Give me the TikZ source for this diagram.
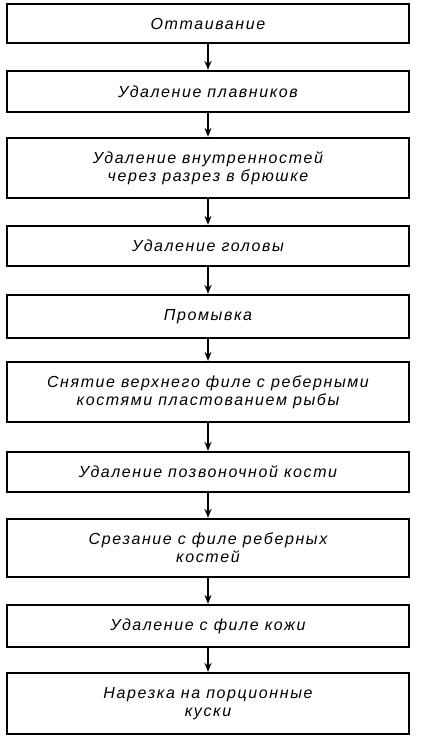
\documentclass[tikz,border=0pt]{standalone}
\usepackage{fontspec}
\setmainfont{Liberation Sans}
\usetikzlibrary{arrows.meta}
\newfontfamily\boxfont[LetterSpace=10]{Liberation Sans}
\tikzset{
  stepbox/.style={draw, line width=2.2pt, minimum width=402pt, align=center,
    inner sep=2pt, font=\boxfont\itshape\fontsize{16pt}{18pt}\selectfont},
  flow/.style={line width=1.8pt, -{Stealth[length=9pt,width=7pt]}}
}
\begin{document}
\begin{tikzpicture}[x=1pt,y=-1pt]
\useasboundingbox (0,0) rectangle (422,741);
\node[stepbox, minimum height=39pt] (b1) at (208,23.5) {Оттаивание};
\node[stepbox, minimum height=41pt] (b2) at (208,91.5) {Удаление плавников};
\node[stepbox, minimum height=60pt] (b3) at (208,168) {Удаление внутренностей\\через разрез в брюшке};
\node[stepbox, minimum height=40pt] (b4) at (208,246) {Удаление головы};
\node[stepbox, minimum height=43pt] (b5) at (208,316.5) {Промывка};
\node[stepbox, minimum height=60pt] (b6) at (208,392) {Снятие верхнего филе с реберными\\костями пластованием рыбы};
\node[stepbox, minimum height=40pt] (b7) at (208,472) {Удаление позвоночной кости};
\node[stepbox, minimum height=58pt] (b8) at (208,548) {Срезание с филе реберных\\костей};
\node[stepbox, minimum height=42pt] (b9) at (208,626) {Удаление с филе кожи};
\node[stepbox, minimum height=61pt] (b10) at (208,703.5) {Нарезка на порционные\\куски};
\foreach \a/\b in {b1/b2,b2/b3,b3/b4,b4/b5,b5/b6,b6/b7,b7/b8,b8/b9,b9/b10}
  \draw[flow] (\a.south) -- (\b.north);
\end{tikzpicture}
\end{document}
